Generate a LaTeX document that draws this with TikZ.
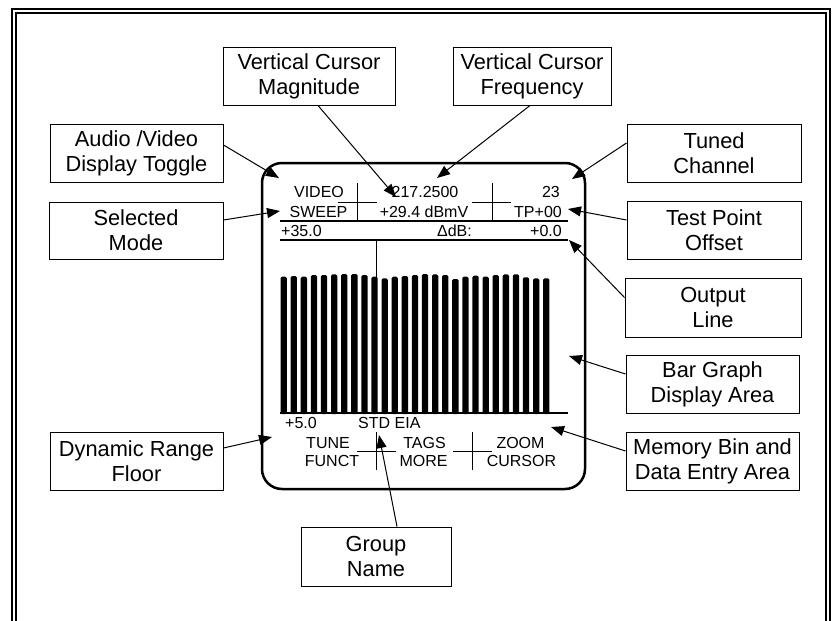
\documentclass[tikz,border=0pt]{standalone}
\usepackage{fontspec}
\setmainfont{Liberation Sans}
\usetikzlibrary{arrows.meta}
\tikzset{
  lbl/.style={draw, line width=1pt, align=center, inner sep=0pt,
    font=\fontsize{21.8}{25}\selectfont, minimum width=173pt, minimum height=58pt},
  arr/.style={line width=1pt, -{Triangle[length=13pt,width=10pt]}},
  scr/.style={inner sep=0pt, font=\fontsize{16}{18}\selectfont},
  thin/.style={line width=1pt},
  bar/.style={fill=black, draw=none}
}
\begin{document}
\begin{tikzpicture}[x=1pt,y=-1pt]
\useasboundingbox (0,0) rectangle (833,621);
\clip (0,0) rectangle (833,621);
% outer double border
\draw[line width=1.5pt] (12,9) rectangle (830,660);
\draw[line width=1.5pt] (16,13) rectangle (826,660);
% screen
\draw[line width=2.5pt, rounded corners=20pt] (262,163) rectangle (585,489);
% top separators and crosses
\draw[thin] (357,183) -- (357,220);
\draw[thin] (492,183) -- (492,220);
\draw[thin] (338,202) -- (377,202);
\draw[thin] (472,202) -- (511,202);
\draw[line width=2pt] (280,221) -- (568,221);
\draw[line width=1.5pt] (280,240) -- (568,240);
\draw[thin] (376,240) -- (376,277);
% screen texts
\node[scr, anchor=base] (tvideo) at (319,197) {VIDEO};
\node[scr, anchor=base] (tfreq) at (425,197) {217.2500};
\node[scr, anchor=base east] (tchan) at (560,197) {23};
\node[scr, anchor=base] (tsweep) at (318.5,217) {SWEEP};
\node[scr, anchor=base] (tmag) at (424,217) {+29.4 dBmV};
\node[scr, anchor=base east] (ttp) at (562,217) {TP+00};
\node[scr, anchor=base west] (tref) at (281,236) {+35.0};
\node[scr, anchor=base east] (tdb) at (472,236) {ΔdB:};
\node[scr, anchor=base east] (tout) at (562,236) {+0.0};
% bars
\foreach \v [count=\i from 0] in {50,48,50,45,45,43,42,42,45,50,55,50,48,45,42,43,45,57,50,47,50,45,43,43,52,55,55}{
  \fill[bar, rounded corners=1.5pt] ({280.5+\i*10.1},{260+\v/3}) rectangle ({286.8+\i*10.1},414);
}
\draw[line width=2pt] (280,413) -- (568,413);
% bottom texts
\node[scr, anchor=base west] (tfloor) at (285,428) {+5.0};
\node[scr, anchor=base west] (tgroup) at (358,428) {STD EIA};
\node[scr, anchor=base] (ttune) at (328,448) {TUNE};
\node[scr, anchor=base] (tfunct) at (332,466) {FUNCT};
\node[scr, anchor=base] (ttags) at (424.5,448) {TAGS};
\node[scr, anchor=base] (tmore) at (423.5,466) {MORE};
\node[scr, anchor=base] (tzoom) at (520.5,448) {ZOOM};
\node[scr, anchor=base] (tcursor) at (521.5,466) {CURSOR};
\draw[thin] (376,432) -- (376,470);
\draw[thin] (357,451) -- (396,451);
\draw[thin] (472,432) -- (472,470);
\draw[thin] (453,451) -- (492,451);
% labels
\node[lbl, minimum width=172pt] (vcm) at (309,76) {Vertical Cursor\\Magnitude};
\node[lbl, minimum width=158pt] (vcf) at (532,76) {Vertical Cursor\\Frequency};
\node[lbl] (avd) at (136.5,153) {Audio /Video\\Display Toggle};
\node[lbl, minimum width=174pt, minimum height=57pt] (sel) at (136,230.5) {Selected\\Mode};
\node[lbl, minimum width=174pt] (tuned) at (714,153) {Tuned\\Channel};
\node[lbl, minimum width=174pt] (tpo) at (714,230) {Test Point\\Offset};
\node[lbl, minimum width=176pt, minimum height=59pt] (outl) at (713,307.5) {Output\\Line};
\node[lbl] (bga) at (712.5,384) {Bar Graph\\Display Area};
\node[lbl] (mem) at (712.5,461) {Memory Bin and\\Data Entry Area};
\node[lbl] (drf) at (136.5,461) {Dynamic Range\\Floor};
\node[lbl, minimum width=150pt, minimum height=59pt] (grp) at (376,556.5) {Group\\Name};
% targets
\coordinate (pavd) at (279,178);
\coordinate (pvcm) at (396,197);
\coordinate (pvcf) at (437,178);
\coordinate (ptuned) at (572,179);
\coordinate (psel) at (280,211);
\coordinate (ptpo) at (568,209);
\coordinate (poutl) at (569,240);
\coordinate (pbga) at (569,356);
\coordinate (pmem) at (551,427);
\coordinate (pdrf) at (272,437);
\coordinate (pgrp) at (379,435);
% connectors
\draw[arr] ([yshift=8pt]avd.east) -- (pavd);
\draw[arr] ([xshift=9pt]vcm.south) -- (pvcm);
\draw[arr] ([xshift=-2pt]vcf.south) -- (pvcf);
\draw[arr] ([yshift=10pt]tuned.west) -- (ptuned);
\draw[arr] ([yshift=10.5pt]sel.east) -- (psel);
\draw[arr] ([yshift=10pt]tpo.west) -- (ptpo);
\draw[arr] ([yshift=10pt]outl.west) -- (poutl);
\draw[arr] ([yshift=10pt]bga.west) -- (pbga);
\draw[arr] ([yshift=10pt]mem.west) -- (pmem);
\draw[arr] ([yshift=13pt]drf.east) -- (pdrf);
\draw[arr] ([xshift=21pt]grp.north) -- (pgrp);
\end{tikzpicture}
\end{document}
